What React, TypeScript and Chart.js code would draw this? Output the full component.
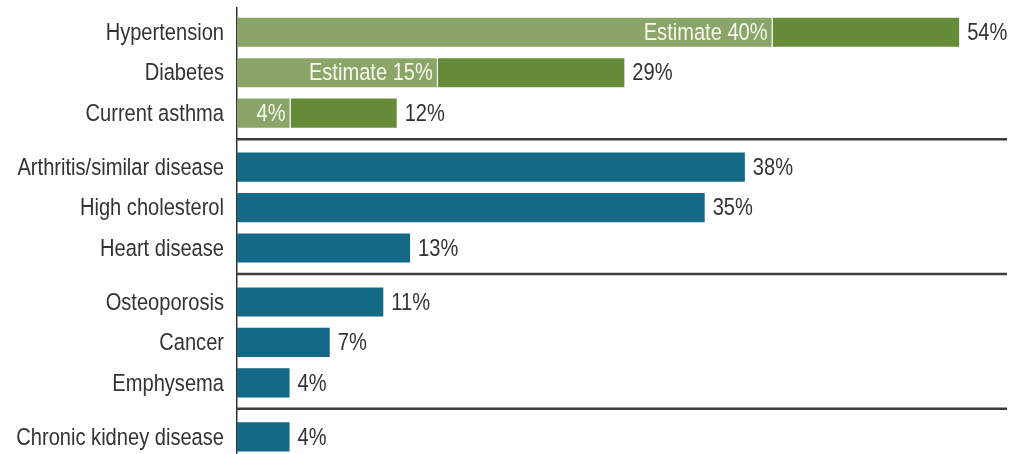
import React, { useEffect, useRef } from "react";
import { Chart, registerables } from "chart.js";

Chart.register(...registerables);

// ---- data ----
const categories = [
  "Hypertension",
  "Diabetes",
  "Current asthma",
  "Arthritis/similar disease",
  "High cholesterol",
  "Heart disease",
  "Osteoporosis",
  "Cancer",
  "Emphysema",
  "Chronic kidney disease",
];
const groupOf = [0, 0, 0, 1, 1, 1, 2, 2, 2, 3];
const totals = [54, 29, 12, 38, 35, 13, 11, 7, 4, 4];
const estimates = [40, 15, 4];
const estimateLabels = ["Estimate 40%", "Estimate 15%", "4%"];
const valueLabels = totals.map((v) => `${v}%`);

// ---- style ----
const FONT = "'Liberation Sans', Arial, sans-serif";
const FONT_SIZE = 24.5;
const NARROW = 0.82;
const TEXT = "#333336";
const LIGHT_GREEN = "#8aa567";
const DARK_GREEN = "#668c3a";
const TEAL = "#136986";
const GROUP_GAP = 1 / 3;

const positions = categories.map((_, i) => i + groupOf[i] * GROUP_GAP);

function narrowText(ctx: CanvasRenderingContext2D, text: string, x: number, y: number, align: CanvasTextAlign) {
  ctx.save();
  ctx.translate(x, y);
  ctx.scale(NARROW, 1);
  ctx.textAlign = align;
  ctx.fillText(text, 0, 0);
  ctx.restore();
}

const labelsPlugin = {
  id: "customLabels",
  afterDatasetsDraw(chart: any) {
    const { ctx, chartArea, scales } = chart;
    const xs = scales.x;
    const ys = scales.y;
    ctx.save();
    ctx.font = `${FONT_SIZE}px ${FONT}`;
    ctx.textBaseline = "middle";
    // separators
    ctx.strokeStyle = "#3c3c3c";
    ctx.lineWidth = 2.5;
    for (let i = 1; i < categories.length; i++) {
      if (groupOf[i] !== groupOf[i - 1]) {
        const y = (ys.getPixelForValue(positions[i]) + ys.getPixelForValue(positions[i - 1])) / 2 - 1;
        ctx.beginPath();
        ctx.moveTo(chartArea.left - 1, y);
        ctx.lineTo(chartArea.right, y);
        ctx.stroke();
      }
    }
    // category labels (y axis)
    ctx.fillStyle = TEXT;
    categories.forEach((c, i) => {
      narrowText(ctx, c, chartArea.left - 13, ys.getPixelForValue(positions[i]) + 1, "right");
    });
    // value labels
    totals.forEach((t, i) => {
      narrowText(ctx, valueLabels[i], xs.getPixelForValue(t) + 7, ys.getPixelForValue(positions[i]) + 1, "left");
    });
    // estimate labels
    ctx.fillStyle = "#f6f8ee";
    estimates.forEach((e, i) => {
      narrowText(ctx, estimateLabels[i], xs.getPixelForValue(e) - 5, ys.getPixelForValue(positions[i]) + 1, "right");
    });
    ctx.restore();
  },
};

export default function App() {
  const ref = useRef<HTMLCanvasElement | null>(null);
  useEffect(() => {
    if (!ref.current) return;
    const chart = new Chart(ref.current, {
      type: "bar",
      data: {
        datasets: [
          {
            label: "Estimate",
            data: estimates.map((v, i) => ({ x: v, y: positions[i] })),
            backgroundColor: LIGHT_GREEN,
            borderColor: "rgba(255,255,255,0.18)",
            borderWidth: 1,
            barPercentage: 0.77,
            categoryPercentage: 1,
          },
          {
            label: "Total",
            data: totals.map((t, i) => ({ x: t - (estimates[i] ?? 0), y: positions[i] })),
            backgroundColor: totals.map((_, i) => (groupOf[i] === 0 ? DARK_GREEN : TEAL)),
            borderColor: "rgba(255,255,255,0.18)",
            borderWidth: 1,
            barPercentage: 0.77,
            categoryPercentage: 1,
          },
        ],
      },
      options: {
        indexAxis: "y",
        animation: false,
        responsive: true,
        maintainAspectRatio: false,
        layout: { padding: { top: 8, bottom: 1, left: 0, right: 20 } },
        plugins: { legend: { display: false }, tooltip: { enabled: false } },
        scales: {
          x: {
            type: "linear",
            stacked: true,
            min: 0,
            max: 57.5,
            display: false,
          },
          y: {
            type: "linear",
            stacked: true,
            reverse: true,
            offset: false,
            grace: 0,
            min: -0.6,
            max: 10.4,
            grid: { display: false, drawTicks: false, offset: false },
            border: { display: true, color: "#333", width: 1.5 },
            afterBuildTicks: (scale: any) => {
              scale.ticks = positions.map((v) => ({ value: v }));
            },
            afterFit: (scale: any) => {
              scale.width = 237;
              scale.paddingTop = 0;
              scale.paddingBottom = 0;
            },
            ticks: { display: false, autoSkip: false },
          },
        },
      },
      plugins: [labelsPlugin],
    } as any);
    return () => chart.destroy();
  }, []);
  return (
    <div style={{ position: "absolute", left: 0, top: 0, width: 1027, height: 454, background: "#fff" }}>
      <canvas ref={ref} />
    </div>
  );
}
